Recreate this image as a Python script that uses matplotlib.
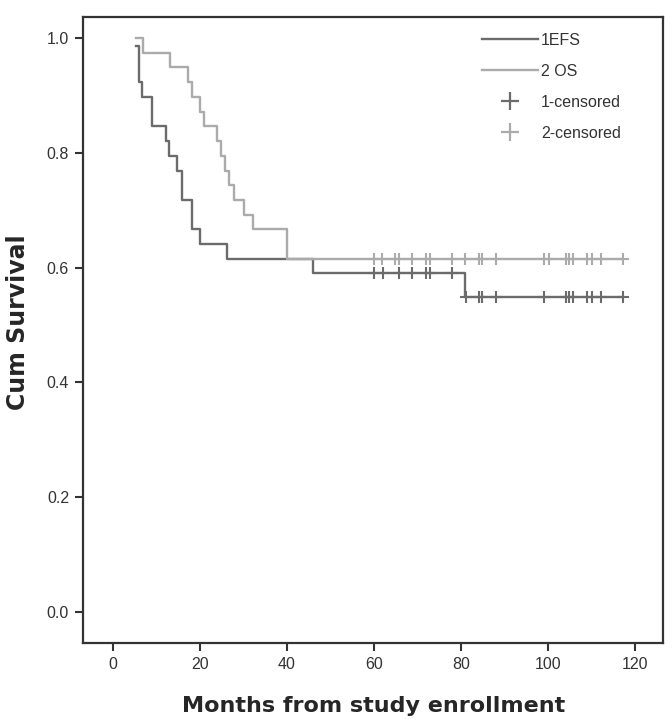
import matplotlib
matplotlib.use('Agg')
import matplotlib.pyplot as plt
import numpy as np
from matplotlib.lines import Line2D

plt.rcParams['font.family'] = ['Liberation Sans', 'DejaVu Sans']

# step curves (time in months, cum survival after the step)
efs_t = [5.3, 6.0, 6.7, 8.9, 12.1, 12.8, 14.6, 15.9, 18.1, 20.0, 26.1, 46.0, 81.0, 117.2]
efs_s = [0.987, 0.923, 0.897, 0.846, 0.821, 0.795, 0.769, 0.718, 0.667, 0.641, 0.615, 0.590, 0.548, 0.548]

os_t = [5.3, 6.8, 13.1, 17.2, 18.1, 20.0, 20.9, 23.8, 24.8, 25.7, 26.7, 27.7, 30.0, 32.1, 40.0, 117.2]
os_s = [1.0, 0.974, 0.949, 0.923, 0.897, 0.872, 0.846, 0.821, 0.795, 0.769, 0.744, 0.718, 0.692, 0.667, 0.615, 0.615]

# censored times
efs_cens = [60.0, 62.0, 65.8, 68.7, 72.0, 72.9, 77.9, 81.1, 84.0, 84.9, 88.0,
            99.1, 104.1, 104.9, 105.7, 109.0, 110.0, 112.1, 117.2]
os_cens = [60.0, 61.8, 64.8, 65.8, 68.7, 72.0, 72.9, 77.9, 80.9, 84.0, 84.9, 88.0,
           99.1, 100.1, 104.1, 104.9, 105.7, 109.0, 110.0, 112.1, 117.2]

efs_col = '#6b6b6b'
os_col = '#ababab'


def surv_at(t, times, surv):
    idx = np.searchsorted(times, t, side='right') - 1
    return np.array(surv)[idx]


fig = plt.figure(figsize=(6.72, 7.28), dpi=100)
ax = fig.add_axes([0.1235, 0.1168, 0.8631, 0.8598])

ax.step(efs_t, efs_s, where='post', color=efs_col, lw=1.7)
ax.step(os_t, os_s, where='post', color=os_col, lw=1.7)

ax.plot(os_cens, surv_at(os_cens, os_t, os_s), ls='none', marker='+',
        ms=9, mew=1.5, color=os_col)
ax.plot(efs_cens, surv_at(efs_cens, efs_t, efs_s), ls='none', marker='+',
        ms=9, mew=1.5, color=efs_col)

ax.set_xlim(-6.9, 126.4)
ax.set_ylim(-0.054, 1.0366)
ax.set_xticks(np.arange(0, 121, 20))
ax.set_yticks(np.arange(0, 1.01, 0.2))
ax.set_yticklabels([f'{v:.1f}' for v in np.arange(0, 1.01, 0.2)])

for sp in ax.spines.values():
    sp.set_color('#333333')
    sp.set_linewidth(1.6)
ax.tick_params(direction='out', length=6, width=1.5, color='#333333',
               labelsize=11.5, labelcolor='#333333', pad=4)

fig.text(374 / 672, 1 - 706 / 728, 'Months from study enrollment', ha='center', va='center',
         fontsize=16, fontweight='bold', family='DejaVu Sans', color='#262626')
fig.text(18 / 672, 1 - 322 / 728, 'Cum Survival', ha='center', va='center', rotation=90,
         fontsize=17, fontweight='bold', family='DejaVu Sans', color='#262626')

handles = [Line2D([], [], color=efs_col, lw=1.7),
           Line2D([], [], color=os_col, lw=1.7),
           Line2D([], [], ls='none', marker='+', ms=13, mew=1.6, color=efs_col),
           Line2D([], [], ls='none', marker='+', ms=13, mew=1.6, color=os_col)]
labels = ['1EFS', '2 OS', '1-censored', '2-censored']
fig.legend(handles, labels, loc='upper left', bbox_to_anchor=(482 / 672, 1 - 33 / 728),
           frameon=False, fontsize=11.5, handlelength=3.5, handletextpad=0.2,
           labelspacing=1.0, borderpad=0, borderaxespad=0, labelcolor='#333333')

fig.savefig('out.png', dpi=100)
